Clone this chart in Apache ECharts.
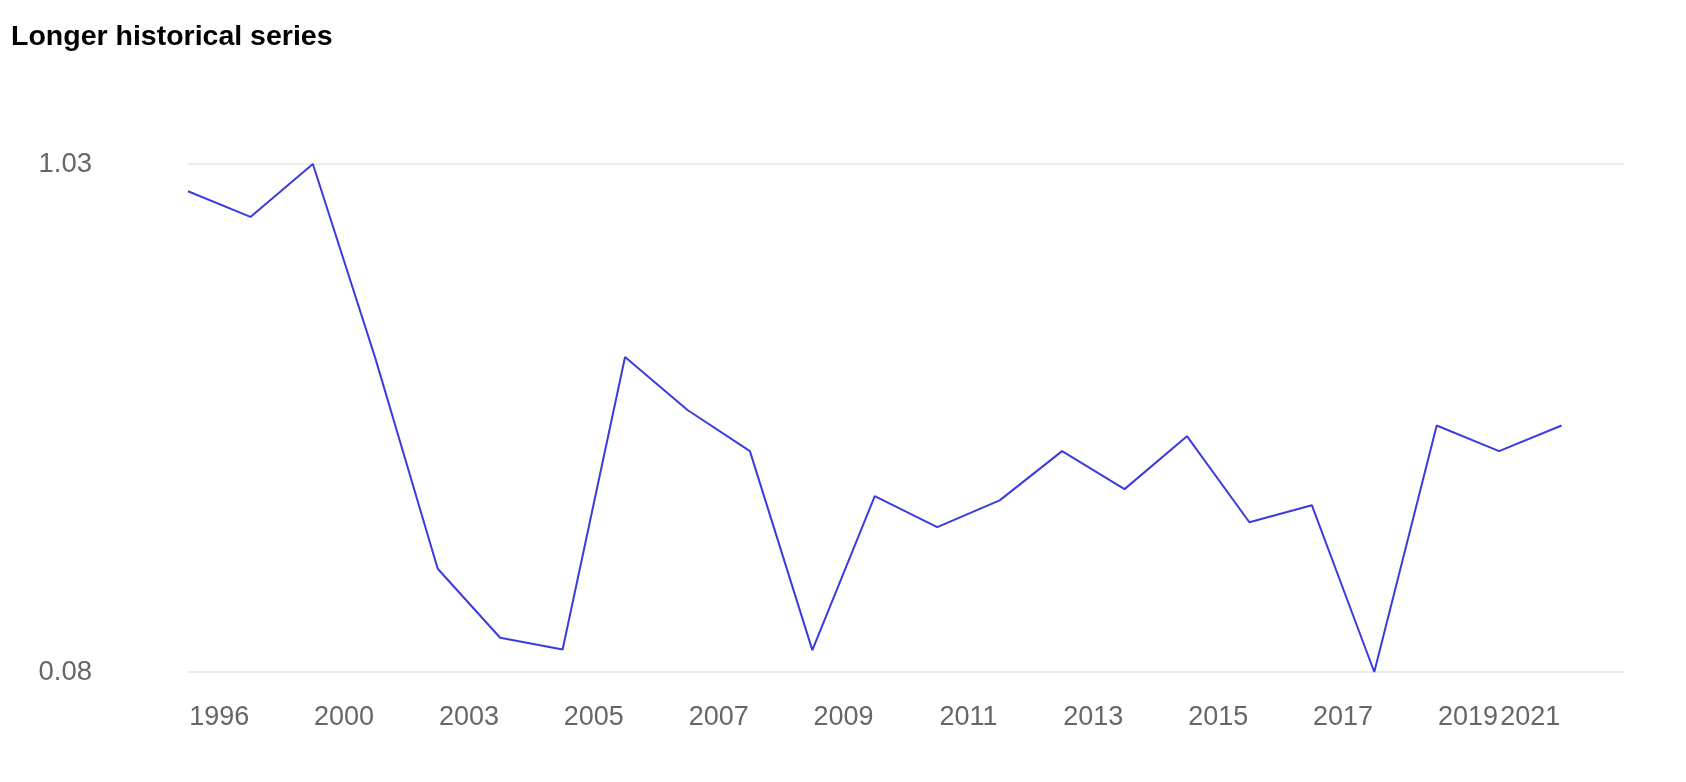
<!DOCTYPE html>
<html>
<head>
<meta charset="utf-8">
<style>
  html, body { margin: 0; padding: 0; background: #ffffff; }
  #chart { width: 1686px; height: 782px; }
</style>
<script src="https://cdn.jsdelivr.net/npm/echarts@6/dist/echarts.min.js"></script>
</head>
<body>
<div id="chart"></div>
<script>
// ---- data ----
const title = 'Longer historical series';
const categories = ['1996', '1998', '2000', '2002', '2003', '2004', '2005', '2006', '2007', '2008',
  '2009', '2010', '2011', '2012', '2013', '2014', '2015', '2016', '2017', '2018', '2019', '2021', '2022'];
const values = [0.979, 0.931, 1.03, 0.667, 0.273, 0.144, 0.122, 0.669, 0.570, 0.493,
  0.121, 0.409, 0.351, 0.401, 0.493, 0.422, 0.521, 0.360, 0.392, 0.08, 0.541, 0.493, 0.541];
const xTickLabels = ['1996', '2000', '2003', '2005', '2007', '2009', '2011', '2013', '2015', '2017', '2019', '2021'];
const yTickLabels = [0.08, 1.03];

const chart = echarts.init(document.getElementById('chart'));
const font = '"Liberation Sans", Arial, sans-serif';

chart.setOption({
  backgroundColor: '#ffffff',
  animation: false,
  title: {
    text: title,
    left: 6,
    top: 18,
    textStyle: { fontFamily: font, fontSize: 28.5, fontWeight: 'bold', color: '#000000' }
  },
  grid: { left: 188, right: 62, top: 164, bottom: 110, containLabel: false },
  xAxis: [
    {
      type: 'category',
      data: categories,
      boundaryGap: true,
      axisLine: { show: false },
      axisTick: { show: false },
      splitLine: { show: false },
      axisLabel: {
        interval: (i, v) => xTickLabels.includes(v),
        hideOverlap: false,
        margin: 32,
        fontFamily: font,
        fontSize: 27,
        color: '#666666'
      }
    },
    {
      type: 'value',
      min: 0,
      max: categories.length,
      show: false
    }
  ],
  yAxis: {
    type: 'value',
    min: yTickLabels[0],
    max: yTickLabels[yTickLabels.length - 1],
    axisLine: { show: false },
    axisTick: { show: false, customValues: yTickLabels },
    axisLabel: {
      customValues: yTickLabels,
      formatter: v => v.toFixed(2),
      margin: 96,
      fontFamily: font,
      fontSize: 27.5,
      color: '#666666'
    },
    splitLine: { show: true, lineStyle: { color: '#ebebeb', width: 2 } }
  },
  series: [{
    type: 'line',
    xAxisIndex: 1,
    data: values.map((v, i) => [i, v]),
    showSymbol: false,
    symbol: 'none',
    lineStyle: { color: '#3b3be0', width: 2 },
    itemStyle: { color: '#3b3be0' }
  }]
});
</script>
</body>
</html>
